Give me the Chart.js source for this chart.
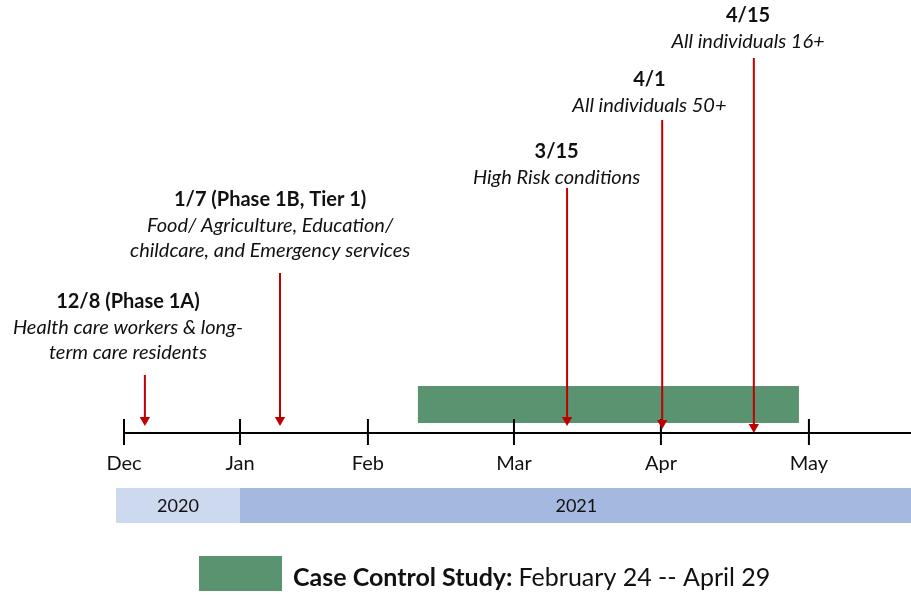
<!DOCTYPE html>
<html>
<head>
<meta charset="utf-8">
<script src="https://cdn.jsdelivr.net/npm/chart.js@4/dist/chart.umd.min.js"></script>
<style>
  html, body { margin: 0; padding: 0; background: #fff; }
  #wrap { width: 911px; height: 595px; position: relative; }
</style>
</head>
<body>
<div id="wrap"><canvas id="timeline"></canvas></div>
<script>
// timeline position of each month tick (Dec 2020 = 0, drawing is not to scale)
const months = ['Dec', 'Jan', 'Feb', 'Mar', 'Apr', 'May'];
const monthPos = [0, 1.0, 2.103, 3.362, 4.629, 5.905];

// rollout events
const eventPos = [0.18, 1.345, 3.82, 4.64, 5.43];
const eventTitles = ['12/8 (Phase 1A)', '1/7 (Phase 1B, Tier 1)', '3/15', '4/1', '4/15'];
const eventNotes = [
    ['Health care workers & long-', 'term care residents'],
    ['Food/ Agriculture, Education/', 'childcare, and Emergency services'],
    ['High Risk conditions'],
    ['All individuals 50+'],
    ['All individuals 16+']
];

// case control study window
const studyStart = 2.534;
const studyEnd = 5.819;
const studyLabel = 'Case Control Study:';
const studyDates = 'February 24 -- April 29';

// year bands
const years = ['2020', '2021'];
const yearStart = [-0.069, 1.0];
const yearEnd = [1.0, 6.79];

// layout (pixel rows, y scale runs top-down in px)
const arrowTop = [375, 273, 188, 120, 58];
const arrowTip = [420, 420, 420, 423, 427];
const labelCenter = [0.034, 1.26, 3.73, 4.53, 5.38];
const labelTop = [302, 200, 152, 80, 16];

const RED = '#c00000';
const GREEN = '#5a9370';
const FONT = 'Lato, "Open Sans", sans-serif';

const timelinePlugin = {
    id: 'timeline',
    beforeDatasetsDraw(chart) {
        const { ctx, scales: { x, y } } = chart;
        ctx.save();

        // year bands
        const bandCols = ['#cdd9ef', '#a4b8e0'];
        years.forEach((yr, i) => {
            const x0 = x.getPixelForValue(yearStart[i]);
            const x1 = x.getPixelForValue(yearEnd[i]);
            ctx.fillStyle = bandCols[i];
            ctx.fillRect(x0, y.getPixelForValue(488), x1 - x0, 35);
            ctx.fillStyle = '#111';
            ctx.font = '18px ' + FONT;
            ctx.textAlign = 'center';
            ctx.textBaseline = 'middle';
            const cx = i === 0 ? (x0 + x1) / 2 : x.getPixelForValue(3.9);
            ctx.fillText(yr, cx, y.getPixelForValue(506));
        });

        // study bar
        const s0 = x.getPixelForValue(studyStart);
        const s1 = x.getPixelForValue(studyEnd);
        ctx.fillStyle = GREEN;
        ctx.fillRect(s0, y.getPixelForValue(386), s1 - s0, 37);

        // axis line + month ticks
        const axisY = y.getPixelForValue(433);
        ctx.strokeStyle = '#000';
        ctx.lineWidth = 2;
        ctx.beginPath();
        ctx.moveTo(x.getPixelForValue(monthPos[0]), axisY);
        ctx.lineTo(chart.width, axisY);
        ctx.stroke();
        ctx.font = '20px ' + FONT;
        ctx.fillStyle = '#111';
        ctx.textAlign = 'center';
        ctx.textBaseline = 'middle';
        months.forEach((m, i) => {
            const px = x.getPixelForValue(monthPos[i]);
            ctx.beginPath();
            ctx.moveTo(px, axisY - 14);
            ctx.lineTo(px, axisY + 12);
            ctx.stroke();
            ctx.fillText(m, px, y.getPixelForValue(464));
        });

        // event labels
        eventTitles.forEach((t, i) => {
            const cx = x.getPixelForValue(labelCenter[i]);
            let ty = labelTop[i];
            ctx.fillStyle = '#111';
            ctx.font = 'bold 20px ' + FONT;
            ctx.fillText(t, cx, y.getPixelForValue(ty));
            ctx.font = 'italic 20px ' + FONT;
            eventNotes[i].forEach(line => {
                ty += 25.5;
                ctx.fillText(line, cx, y.getPixelForValue(ty));
            });
        });

        // legend
        ctx.fillStyle = GREEN;
        ctx.fillRect(199, 556, 83, 35);
        ctx.textAlign = 'left';
        ctx.fillStyle = '#111';
        ctx.font = 'bold 25px ' + FONT;
        ctx.fillText(studyLabel, 293, 578);
        const w = ctx.measureText(studyLabel + ' ').width;
        ctx.font = '25px ' + FONT;
        ctx.fillText(studyDates, 293 + w, 578);

        ctx.restore();
    }
};

const datasets = eventPos.map((pos, i) => ({
    label: eventTitles[i],
    data: [{ x: pos, y: arrowTop[i] }, { x: pos, y: arrowTip[i] }],
    borderColor: RED,
    borderWidth: 2,
    pointRadius: [0, 6],
    pointStyle: 'triangle',
    rotation: 180,
    pointBackgroundColor: RED,
    pointBorderColor: RED,
    pointBorderWidth: 0,
    clip: false
}));

new Chart(document.getElementById('timeline'), {
    type: 'line',
    data: { datasets },
    options: {
        responsive: true,
        maintainAspectRatio: false,
        animation: false,
        layout: { padding: 0, autoPadding: false },
        plugins: {
            legend: { display: false },
            tooltip: { enabled: false }
        },
        scales: {
            x: { type: 'linear', display: false, min: -1.069, max: 6.785 },
            y: { type: 'linear', display: false, min: 0, max: 595, reverse: true }
        }
    },
    plugins: [timelinePlugin]
});
</script>
</body>
</html>
